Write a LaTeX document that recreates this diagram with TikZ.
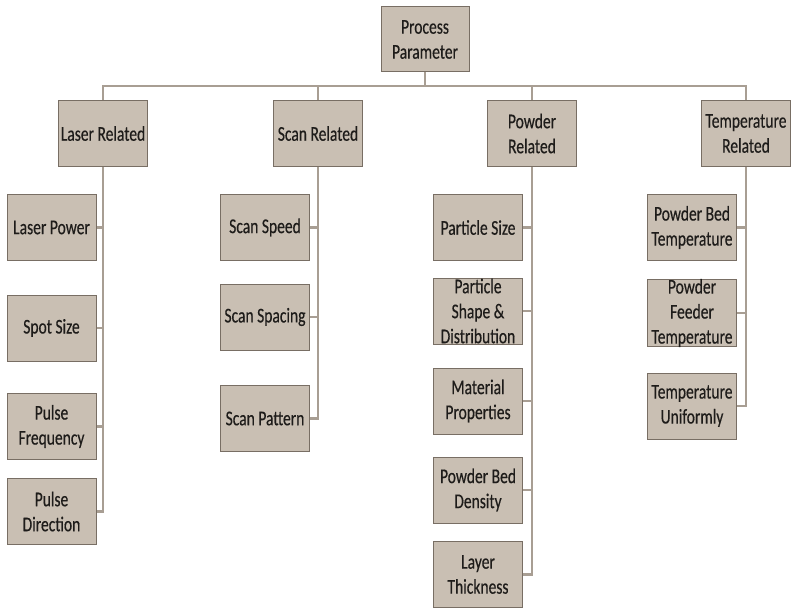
\documentclass[tikz,border=0pt]{standalone}
\usepackage{fontspec}
\setmainfont[FakeStretch=0.74,FakeBold=0.4]{Carlito}
\definecolor{boxfill}{RGB}{201,191,179}
\definecolor{boxline}{RGB}{120,110,100}
\definecolor{conn}{RGB}{168,158,147}
\definecolor{txt}{RGB}{30,28,26}
\begin{document}
\begin{tikzpicture}[x=1pt,y=-1pt,
  pbox/.style={draw=boxline,fill=boxfill,line width=1pt,minimum width=89pt,minimum height=66pt,
    inner sep=0pt,align=center,text=txt,font=\fontsize{21}{25}\selectfont},
  link/.style={draw=conn,line width=2.5pt}]
\useasboundingbox (0,0) rectangle (791,609);
% root
\node[pbox,minimum width=88pt,minimum height=65pt] (root) at (425,39.5) {Process\\Parameter};
% level 1
\node[pbox] (laser) at (103,133.5) {Laser Related};
\node[pbox] (scan) at (318,133.5) {Scan Related};
\node[pbox] (powder) at (532,133.5) {Powder\\Related};
\node[pbox] (temp) at (746,133.5) {Temperature\\Related};
% laser children
\node[pbox] (lp) at (51.5,227.5) {Laser Power};
\node[pbox] (ss) at (51.5,328) {Spot Size};
\node[pbox] (pf) at (51.5,426.5) {Pulse\\Frequency};
\node[pbox] (pd) at (51.5,511.5) {Pulse\\Direction};
% scan children
\node[pbox] (ssp) at (265,227.5) {Scan Speed};
\node[pbox] (sspc) at (265,317) {Scan Spacing};
\node[pbox] (spat) at (265,418.5) {Scan Pattern};
% powder children
\node[pbox] (psz) at (478,227.5) {Particle Size};
\node[pbox] (psh) at (478,311) {Particle\\Shape \&\\Distribution};
\node[pbox] (mp) at (478,401) {Material\\Properties};
\node[pbox] (pbd) at (478,490) {Powder Bed\\Density};
\node[pbox] (lt) at (478,574.5) {Layer\\Thickness};
% temperature children
\node[pbox] (pbt) at (692,227.5) {Powder Bed\\Temperature};
\node[pbox] (pft) at (692,313) {Powder\\Feeder\\Temperature};
\node[pbox] (tu) at (692,406) {Temperature\\Uniformly};
% connectors
\coordinate (bus) at (425,86);
\draw[link] (root.south) -- (bus);
\draw[link] (laser.north) |- (bus) -| (temp.north);
\draw[link] (scan.north) -- (scan.north |- bus);
\draw[link] (powder.north) -- (powder.north |- bus);
\foreach \c in {lp,ss,pf,pd} \draw[link] (laser.south) |- (\c.east);
\foreach \c in {ssp,sspc,spat} \draw[link] (scan.south) |- (\c.east);
\foreach \c in {psz,psh,mp,pbd,lt} \draw[link] (powder.south) |- (\c.east);
\foreach \c in {pbt,pft,tu} \draw[link] (temp.south) |- (\c.east);
\end{tikzpicture}
\end{document}
